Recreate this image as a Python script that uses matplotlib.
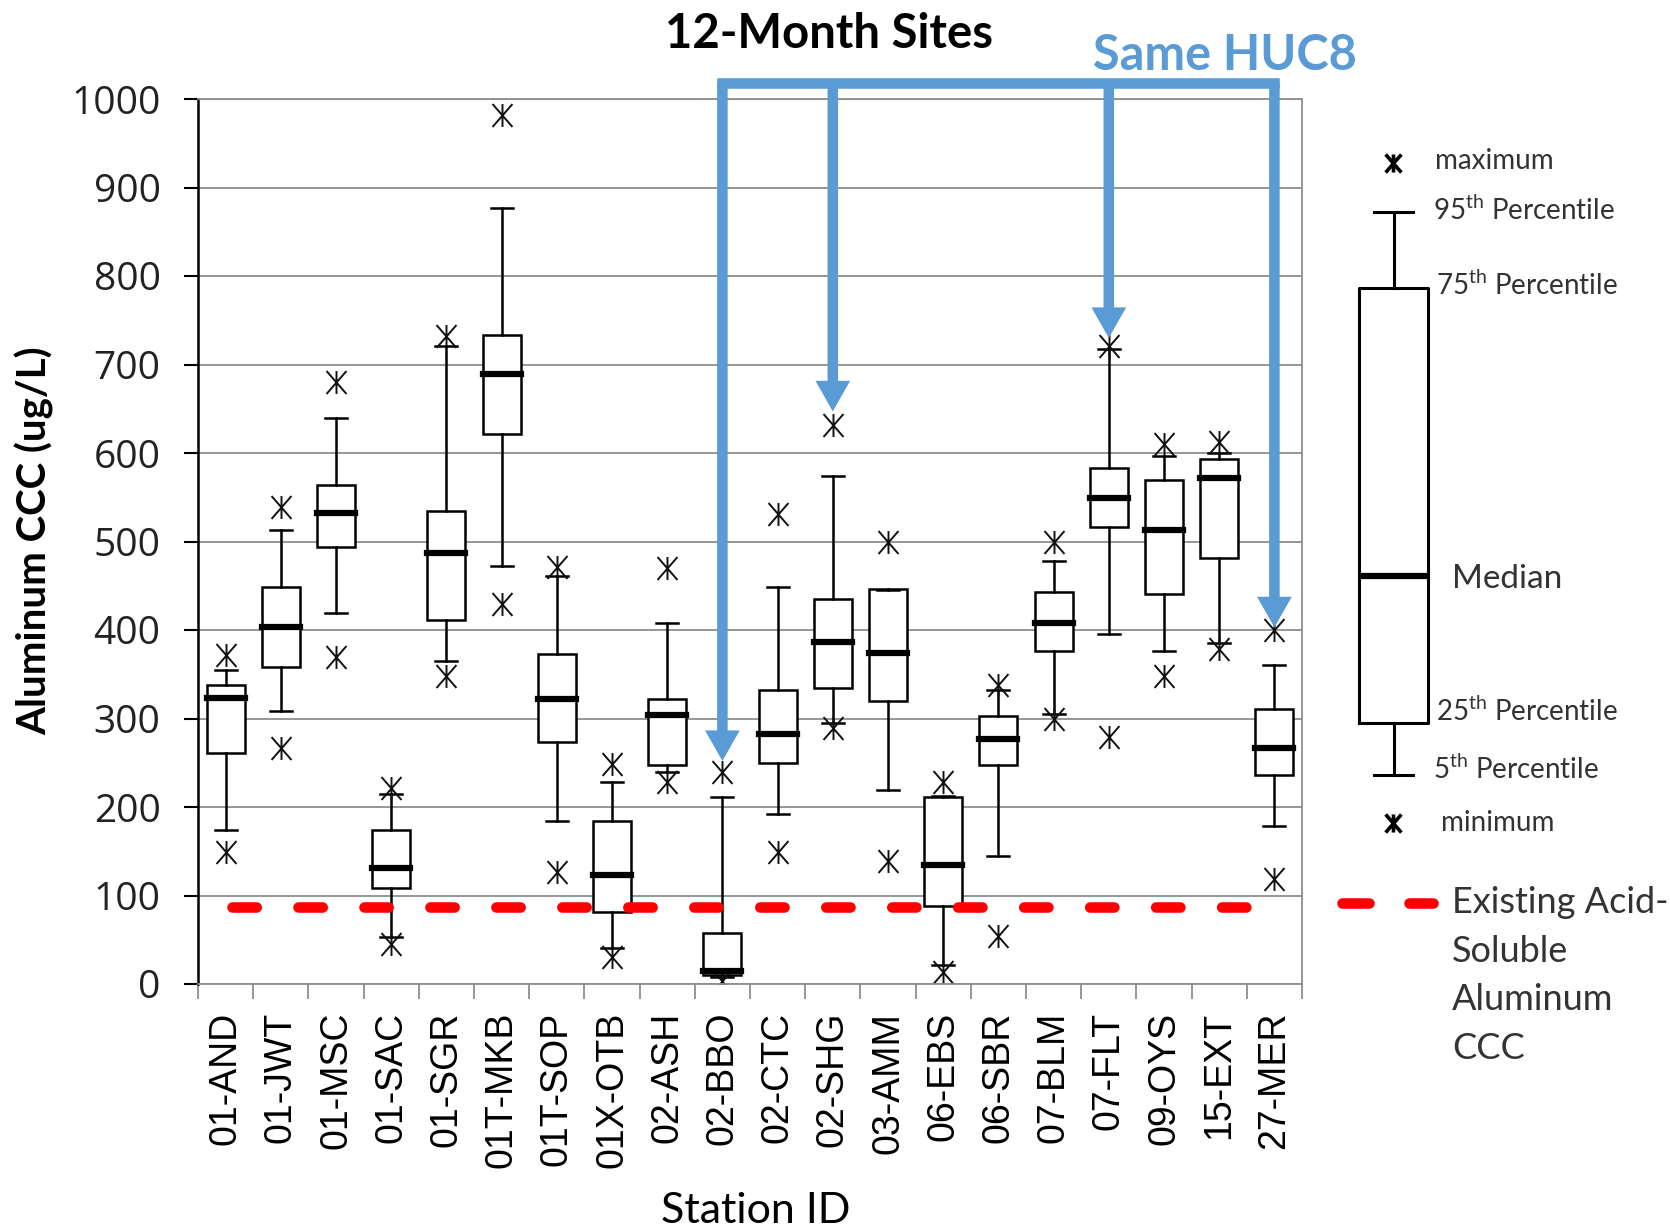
import matplotlib.pyplot as plt
from matplotlib.path import Path

# station summary statistics (ug/L)
stations = ['01-AND', '01-JWT', '01-MSC', '01-SAC', '01-SGR', '01T-MKB', '01T-SOP',
            '01X-OTB', '02-ASH', '02-BBO', '02-CTC', '02-SHG', '03-AMM', '06-EBS',
            '06-SBR', '07-BLM', '07-FLT', '09-OYS', '15-EXT', '27-MER']
maximum = [372, 539, 680, 221, 732, 982, 471, 249, 470, 239,
           531, 632, 499, 228, 338, 499, 721, 610, 612, 400]
p95 = [355, 513, 639, 215, 721, 877, 461, 228, 408, 211,
       449, 574, 445, 212, 332, 478, 717, 597, 600, 360]
p75 = [338, 449, 564, 174, 534, 733, 373, 184, 322, 58,
       332, 435, 446, 211, 303, 443, 583, 569, 593, 311]
median = [323, 403, 532, 131, 487, 689, 322, 123, 304, 15,
          282, 387, 374, 134, 277, 408, 549, 513, 572, 267]
p25 = [261, 358, 494, 109, 411, 621, 273, 81, 248, 10,
       250, 335, 320, 88, 247, 376, 516, 441, 481, 236]
p5 = [174, 309, 419, 53, 365, 472, 184, 41, 239, 8,
      192, 295, 219, 22, 145, 305, 395, 376, 385, 179]
minimum = [149, 267, 370, 45, 348, 429, 127, 30, 228, 3,
           149, 289, 139, 14, 54, 299, 279, 348, 378, 119]

# existing acid-soluble aluminum CCC
criterion = 87

# stations in the same HUC8
huc8_stations = ['02-BBO', '02-SHG', '07-FLT', '27-MER']
huc8_tips = [252, 647, 730, 403]
huc8_bar = 1018

BLUE = '#5b9bd5'
GREY = '#333333'
W, H = 1670, 1229

plt.rcParams['font.family'] = 'Lato'
plt.rcParams['mathtext.fontset'] = 'custom'
plt.rcParams['mathtext.rm'] = 'Lato'

# asterisk: an X with a vertical bar through it
M, L = Path.MOVETO, Path.LINETO
star = Path([(0, -1), (0, 1), (-0.87, -1), (0.87, 1), (-0.87, 1), (0.87, -1)],
            [M, L, M, L, M, L])

fig = plt.figure(figsize=(W / 100, H / 100), dpi=100)
ax = fig.add_axes([198 / W, 1 - 984 / H, (1302 - 198) / W, (984 - 99) / H])

pos = list(range(1, len(stations) + 1))
stats = []
for i, s in enumerate(stations):
    stats.append(dict(label=s, med=median[i], q1=p25[i], q3=p75[i],
                      whislo=p5[i], whishi=p95[i], fliers=[minimum[i], maximum[i]]))

ax.bxp(stats, positions=pos, widths=0.69, capwidths=0.4, patch_artist=True,
       boxprops=dict(facecolor='white', edgecolor='black', linewidth=1.8),
       medianprops=dict(color='black', linewidth=4.5, solid_capstyle='projecting'),
       whiskerprops=dict(color='black', linewidth=1.8),
       capprops=dict(color='black', linewidth=1.8),
       flierprops=dict(marker=star, markersize=16.5, markeredgecolor='#111111',
                       markeredgewidth=1.4, linestyle='none'))

ax.set_xlim(0.5, len(stations) + 0.5)
ax.set_ylim(0, 1000)
ax.set_yticks(range(0, 1001, 100))
ax.yaxis.grid(True, color='#8f8f8f', linewidth=1.3)
ax.set_axisbelow(True)

for side in ['top', 'right', 'bottom']:
    ax.spines[side].set_color('#8f8f8f')
    ax.spines[side].set_linewidth(1.3)
ax.spines['left'].set_color('black')
ax.spines['left'].set_linewidth(1.8)

ax.set_xticks(pos)
ax.set_xticklabels(stations, rotation=90, fontfamily='Liberation Sans', fontsize=27)
ax.set_xticks([p - 0.5 for p in pos] + [len(stations) + 0.5], minor=True)
ax.tick_params(axis='x', which='major', length=0, pad=20)
ax.tick_params(axis='x', which='minor', length=11, width=1.3, color='#8f8f8f')
ax.tick_params(axis='y', length=10, width=1.5, pad=17, labelsize=28, labelcolor='#222222')
for lab in ax.get_yticklabels():
    lab.set_fontfamily('Open Sans')

# criterion line
ax.plot([1.116, 19.68], [criterion, criterion], color='#ff0000', linewidth=7.6,
        linestyle=(0, (2.3, 3.95)), dash_capstyle='round', zorder=4)

# HUC8 bracket with arrows
xs = [pos[stations.index(s)] for s in huc8_stations]
ax.plot([xs[0], xs[-1]], [huc8_bar, huc8_bar], color=BLUE, linewidth=7.6,
        solid_capstyle='projecting', clip_on=False, zorder=6)
for x, tip in zip(xs, huc8_tips):
    ax.annotate('', xy=(x, tip), xytext=(x, huc8_bar), annotation_clip=False, zorder=6,
                arrowprops=dict(arrowstyle='simple,head_length=1.1,head_width=1.25,tail_width=0.38',
                                mutation_scale=20, color=BLUE, lw=0, shrinkA=0, shrinkB=0))

fig.text(1225 / W, 1 - 56 / H, 'Same HUC8', color=BLUE, fontsize=35, fontweight='bold',
         ha='center', va='center')
fig.text(829 / W, 1 - 34 / H, '12-Month Sites', fontsize=34, fontweight='bold',
         ha='center', va='center')
fig.text(35 / W, 1 - 541 / H, 'Aluminum CCC (ug/L)', fontsize=29, fontweight='bold',
         rotation=90, ha='center', va='center')
fig.text(756 / W, 1 - 1211 / H, 'Station ID', fontsize=31, ha='center', va='center')

# box key on the right
key = fig.add_axes([0, 0, 1, 1], facecolor='none')
key.set_xlim(0, W)
key.set_ylim(H, 0)
key.axis('off')
key.bxp([dict(med=576, q1=723, q3=288, whislo=775, whishi=212, fliers=[])],
        positions=[1393.5], widths=69, capwidths=39, showfliers=False,
        boxprops=dict(color='black', linewidth=2.2),
        medianprops=dict(color='black', linewidth=4.5),
        whiskerprops=dict(color='black', linewidth=2.2),
        capprops=dict(color='black', linewidth=2.2))
key.plot([1393, 1393], [163, 823], linestyle='none', marker=star, markersize=13,
         markeredgewidth=2.6, color='black')

key_labels = [(1435, 161, 'maximum', 20),
              (1433, 210, '95$^{\\rm th}$ Percentile', 20),
              (1436, 285, '75$^{\\rm th}$ Percentile', 20),
              (1452, 579, 'Median', 24),
              (1436, 711, '25$^{\\rm th}$ Percentile', 20),
              (1433, 769, '5$^{\\rm th}$ Percentile', 20),
              (1441, 823, 'minimum', 20)]
for x, y, t, fs in key_labels:
    key.text(x, y, t, fontsize=fs, color=GREY, ha='left', va='center')

key.plot([1342, 1369], [903, 903], color='#ff0000', linewidth=7.6, solid_capstyle='round')
key.plot([1409, 1433], [903, 903], color='#ff0000', linewidth=7.6, solid_capstyle='round')
key.text(1452, 886, 'Existing Acid-\nSoluble\nAluminum\nCCC', fontsize=26, color=GREY,
         ha='left', va='top', linespacing=1.58)

fig.savefig('out.png', dpi=100)
